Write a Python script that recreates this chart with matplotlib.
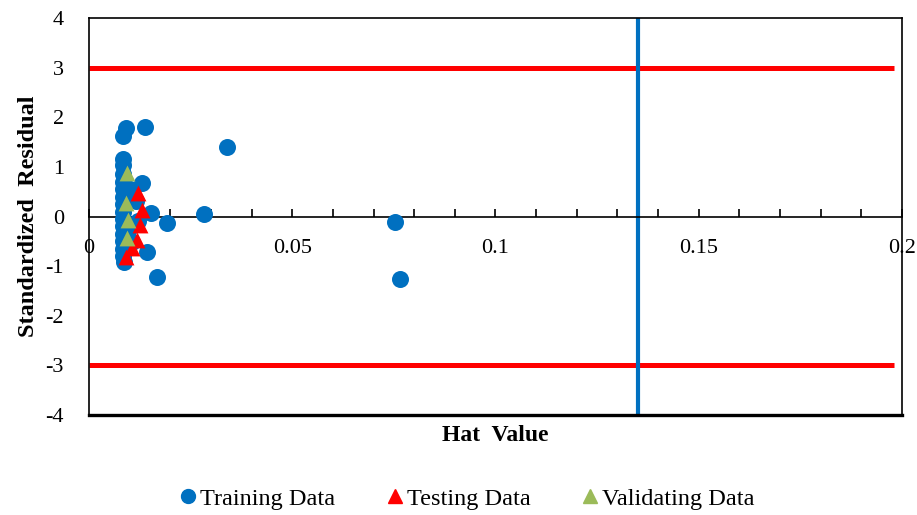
import matplotlib
matplotlib.use("Agg")
import matplotlib.pyplot as plt
from matplotlib.lines import Line2D

# ---- data ----
train_x = [0.0091, 0.0084, 0.0084, 0.0083, 0.0083, 0.0084, 0.0083, 0.0084, 0.0083,
           0.0084, 0.0083, 0.0084, 0.0083, 0.0084, 0.0083, 0.0084, 0.0085,
           0.0138, 0.0339, 0.0282, 0.0191, 0.0167, 0.0144, 0.0153, 0.0130,
           0.0754, 0.0764, 0.0115, 0.0120, 0.0105, 0.0100, 0.0095]
train_y = [1.78, 1.63, 1.15, 1.04, 0.85, 0.70, 0.55, 0.40, 0.25,
           0.10, -0.05, -0.20, -0.35, -0.50, -0.65, -0.80, -0.91,
           1.80, 1.40, 0.06, -0.13, -1.21, -0.71, 0.08, 0.68,
           -0.10, -1.25, 0.32, -0.08, -0.52, 0.55, -0.30]

test_x = [0.0120, 0.0130, 0.0126, 0.0117, 0.0105, 0.0091]
test_y = [0.47, 0.13, -0.17, -0.47, -0.64, -0.81]

valid_x = [0.0093, 0.0091, 0.0097, 0.0093]
valid_y = [0.87, 0.27, -0.07, -0.44]

limit_y = [3.0, -3.0]
limit_x = [0.0, 0.198]
h_star = 0.135

x_ticks = [0, 0.05, 0.1, 0.15, 0.2]
x_ticklabels = ["0", "0.05", "0.1", "0.15", "0.2"]
y_ticks = [-4, -3, -2, -1, 0, 1, 2, 3, 4]

# ---- style ----
plt.rcParams['font.family'] = ['Liberation Serif', 'DejaVu Serif']
c_train = '#0070C0'
c_test = '#FF0000'
c_valid = '#9BBB59'

fig = plt.figure(figsize=(9.17, 5.15), dpi=100)
ax = fig.add_axes([0.097, 0.194, 0.8866, 0.771])

for yv in limit_y:
    ax.plot(limit_x, [yv, yv], color='#FF0000', lw=3.6, solid_capstyle='butt', zorder=2)
ax.plot([h_star, h_star], [-4, 4], color=c_train, lw=3.0, solid_capstyle='butt', zorder=2)

ax.scatter(train_x, train_y, s=150, color=c_train, marker='o', linewidths=0, zorder=3)
ax.scatter(test_x, test_y, s=130, color=c_test, marker='^', linewidths=0, zorder=4)
ax.scatter(valid_x, valid_y, s=130, color=c_valid, marker='^', linewidths=0, zorder=5)

ax.set_xlim(0, 0.2)
ax.set_ylim(-4, 4)

ax.spines['bottom'].set_position(('data', 0))
ax.spines['bottom'].set_linewidth(1.2)
for s in ['left', 'right', 'top']:
    ax.spines[s].set_linewidth(1.2)
ax.axhline(-4, color='black', lw=2.4, zorder=6, clip_on=False)

ax.set_xticks(x_ticks)
ax.set_xticklabels(x_ticklabels)
ax.set_xticks([i * 0.01 for i in range(21)], minor=True)
ax.tick_params(axis='x', which='both', direction='in', length=6, width=1.2,
               pad=16, labelsize=16)
ax.set_yticks(y_ticks)
ax.set_yticklabels([str(v) for v in y_ticks])
ax.tick_params(axis='y', length=0, pad=18, labelsize=16)

ax.set_ylabel('Standardized  Residual', fontsize=17.5, fontweight='bold', labelpad=5)
fig.text(0.54, 0.155, 'Hat  Value', fontsize=17, fontweight='bold', ha='center', va='center')

handles = [
    Line2D([], [], marker='o', color=c_train, linestyle='none', markersize=10),
    Line2D([], [], marker='^', color=c_test, linestyle='none', markersize=10),
    Line2D([], [], marker='^', color=c_valid, linestyle='none', markersize=10),
]
fig.legend(handles, ['Training Data', 'Testing Data', 'Validating Data'],
           loc='center', bbox_to_anchor=(0.508, 0.032), ncol=3, frameon=False,
           fontsize=17.5, handletextpad=0.05, columnspacing=2.0, handlelength=0.9)

fig.savefig('out.png', dpi=100)
